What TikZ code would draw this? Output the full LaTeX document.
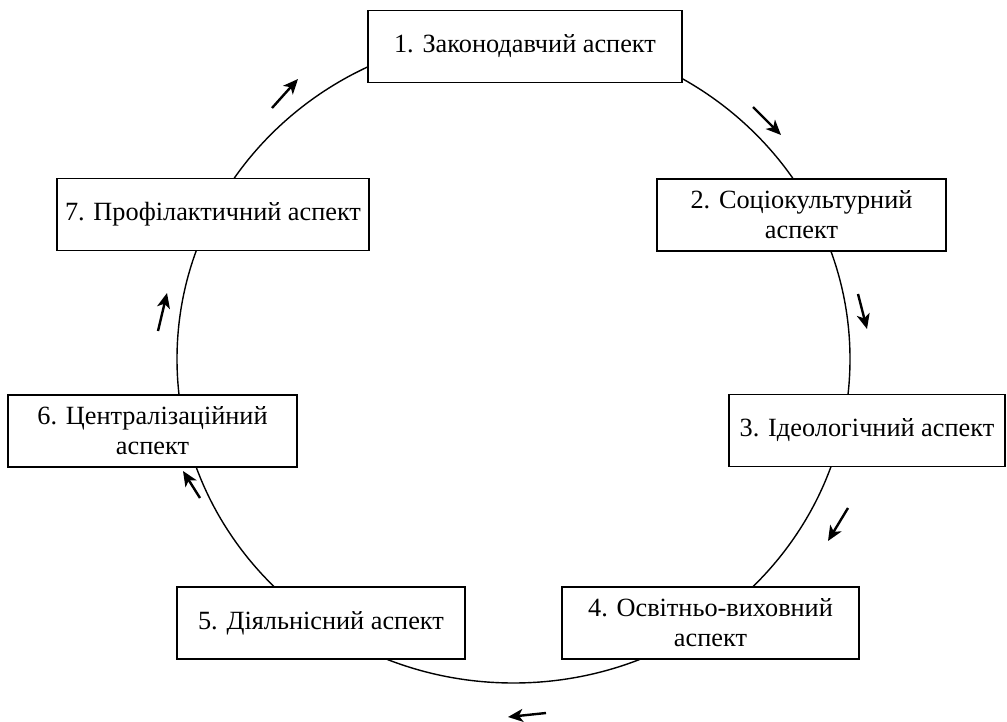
\documentclass[tikz,border=0pt]{standalone}
\usepackage{fontspec}
\setmainfont{Liberation Serif}
\usetikzlibrary{arrows.meta}
\begin{document}
\begin{tikzpicture}[x=1pt,y=-1pt,
  box/.style={draw=black, line width=1.5pt, fill=white, inner sep=0pt, align=center,
    font=\fontsize{26.3}{30}\selectfont, minimum height=72pt},
  ring/.style={draw=black, line width=1.4pt},
  flow/.style={line width=2.4pt, -{Stealth[length=15pt,width=13pt,inset=4pt]}}]
\useasboundingbox (0,0) rectangle (1007,722);
\draw[ring] (513.5,359) ellipse [x radius=336.5pt, y radius=324pt];
\node[box, minimum width=314pt] (b1) at (525,46.5) {1. Законодавчий аспект};
\node[box, minimum width=289pt] (b2) at (801.5,215) {2. Соціокультурний\\аспект};
\node[box, minimum width=276pt] (b3) at (867,430.5) {3. Ідеологічний аспект};
\node[box, minimum width=297pt] (b4) at (710.5,623) {4. Освітньо-виховний\\аспект};
\node[box, minimum width=288pt] (b5) at (321,623) {5. Діяльнісний аспект};
\node[box, minimum width=289pt] (b6) at (152.5,431) {6. Централізаційний\\аспект};
\node[box, minimum width=312pt] (b7) at (213,214.5) {7. Профілактичний аспект};
\coordinate (t1) at (753,107); \coordinate (h1) at (781,135);
\coordinate (t2) at (858,294); \coordinate (h2) at (867,329);
\coordinate (t3) at (848,508); \coordinate (h3) at (828,541);
\coordinate (t4) at (546,713); \coordinate (h4) at (508,717);
\coordinate (t5) at (200,498); \coordinate (h5) at (183,471);
\coordinate (t6) at (158,331); \coordinate (h6) at (167,293);
\coordinate (t7) at (272,108); \coordinate (h7) at (298,79);
\draw[flow] (t1) -- (h1);
\draw[flow] (t2) -- (h2);
\draw[flow] (t3) -- (h3);
\draw[flow] (t4) -- (h4);
\draw[flow] (t5) -- (h5);
\draw[flow] (t6) -- (h6);
\draw[flow] (t7) -- (h7);
\end{tikzpicture}
\end{document}
